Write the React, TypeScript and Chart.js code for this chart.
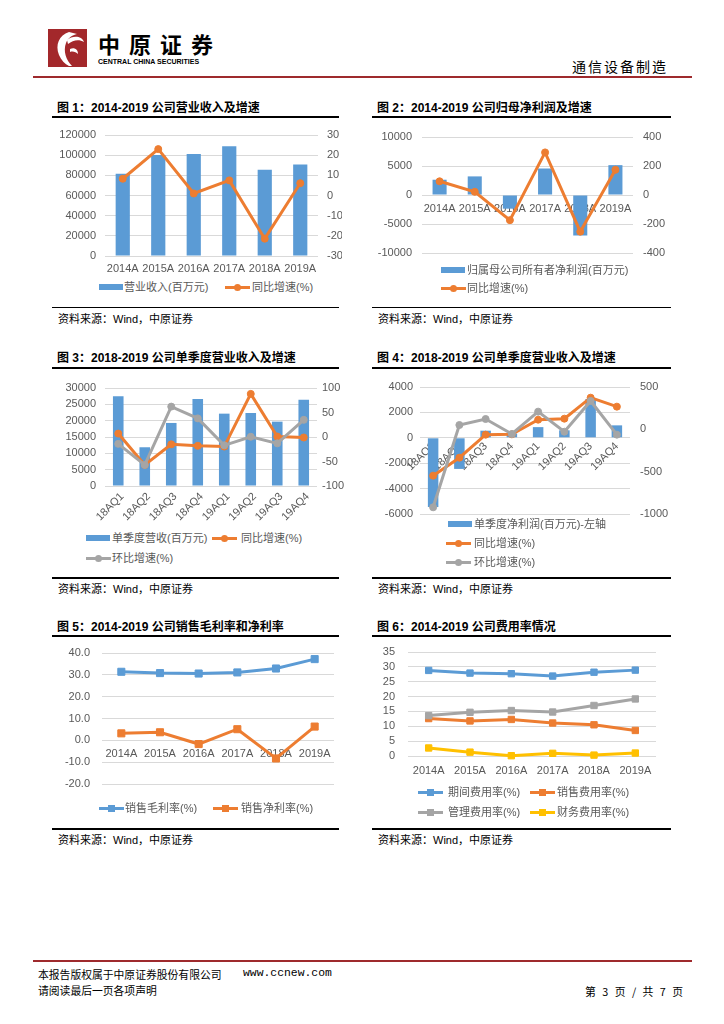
import React, { useEffect, useRef } from "react";
import { Chart, registerables } from "chart.js";
Chart.register(...registerables);

// ---------- data ----------
const years = ["2014A", "2015A", "2016A", "2017A", "2018A", "2019A"];
const quarters = ["18AQ1", "18AQ2", "18AQ3", "18AQ4", "19AQ1", "19AQ2", "19AQ3", "19AQ4"];

const revenue = [81471, 100186, 101233, 108815, 85513, 90737];
const revenueYoY = [8.3, 23.0, 1.0, 7.5, -21.4, 6.1];

const netProfit = [2634, 3208, -2357, 4568, -6984, 5148];
const netProfitYoY = [94.6, 21.8, -173.5, 293.8, -252.9, 173.7];

const qRevenue = [27450, 11860, 19300, 26650, 22150, 22350, 19700, 26400];
const qRevenueYoY = [7, -57, -15, -18, -19.5, 88, 1, -1];
const qRevenueQoQ = [-14, -57, 62, 38, -17, 0.5, -13, 35];

const qProfit = [-5450, -2450, 560, 340, 840, 590, 3050, 980];
const qProfitYoY = [-547, -335, -63, -59, 114, 126, 374, 268];
const qProfitQoQ = [-921, 51, 122, -55, 209, -28, 335, -63];

const grossMargin = [31.4, 30.8, 30.6, 31.1, 32.9, 37.2];
const netMargin = [3.2, 3.7, -1.7, 5.1, -8.3, 6.3];

const periodExp = [28.8, 27.9, 27.7, 26.9, 28.2, 28.9];
const sellingExp = [12.6, 11.8, 12.3, 11.1, 10.5, 8.6];
const adminExp = [13.6, 14.7, 15.3, 14.8, 17.0, 19.2];
const financeExp = [2.7, 1.3, 0.1, 0.9, 0.3, 1.0];

// ---------- styles ----------
const BLUE = "#5B9BD5";
const ORANGE = "#ED7D31";
const GRAY = "#A5A5A5";
const YELLOW = "#FFC000";
const GRID = "#D9D9D9";
const TICK = "#595959";
const RED = "#9E2A2D";
const FONT = "'Liberation Sans', 'Noto Sans CJK SC', sans-serif";
const CJK = "'Noto Sans CJK SC', 'Liberation Sans', sans-serif";
const TICKFONT = { family: "'Liberation Sans', sans-serif", size: 11 };

type Geo = { l: number; t: number; r: number; b: number; lw: number; rw: number; tp: number; bh: number; obj: boolean; right: boolean };

function cssBox(g: Geo) {
  return { left: g.l - g.lw, top: g.t - g.tp, width: g.r - g.l + g.lw + g.rw, height: g.b - g.t + g.tp + g.bh };
}

function baseOptions(g: Geo, scales: any) {
  return {
    responsive: false,
    maintainAspectRatio: false,
    animation: false,
    layout: { padding: { top: g.tp, left: 0, right: g.right ? 0 : g.rw, bottom: g.obj ? g.bh : 0 } },
    plugins: { legend: { display: false }, tooltip: { enabled: false } },
    scales,
  };
}

function yScale(pos: string, min: number, max: number, step: number, width: number, pad: number, grid: boolean, fmt?: (v: number) => string) {
  return {
    type: "linear",
    position: pos,
    min,
    max,
    ticks: {
      stepSize: step,
      padding: pad,
      color: TICK,
      font: TICKFONT,
      autoSkip: false,
      callback: (v: any) => (fmt ? fmt(Number(v)) : String(v)),
    },
    grid: { display: grid, color: GRID, lineWidth: 1, drawTicks: false },
    border: { display: false },
    afterFit: (s: any) => {
      s.width = width;
    },
  };
}

function xScale(g: Geo, pad: number, rot: number, labelOffset: number) {
  return {
    type: "category",
    position: g.obj ? { y: 0 } : "bottom",
    offset: true,
    grid: { display: false, drawTicks: false },
    border: { display: false },
    ticks: { padding: pad, color: TICK, font: TICKFONT, maxRotation: rot, minRotation: rot, autoSkip: false, labelOffset },
    afterFit: (s: any) => {
      s.height = g.obj ? 0 : g.bh;
    },
  };
}

function lineDs(label: string, data: number[], color: string, axis: string, style: string, radius: number, order: number) {
  return {
    type: "line",
    label,
    data,
    yAxisID: axis,
    borderColor: color,
    backgroundColor: color,
    borderWidth: 3,
    pointStyle: style,
    pointRadius: radius,
    pointBorderWidth: 1,
    pointBackgroundColor: color,
    pointBorderColor: color,
    tension: 0,
    order,
    clip: false,
  };
}

function barDs(label: string, data: number[], order: number) {
  return { type: "bar", label, data, yAxisID: "y", backgroundColor: BLUE, barPercentage: 0.4, categoryPercentage: 1, order };
}

// ---------- geometry ----------
const g1: Geo = { l: 105, t: 135, r: 318, b: 256, lw: 50, rw: 24, tp: 20, bh: 22, obj: false, right: true };
const g2: Geo = { l: 422, t: 137, r: 633, b: 253, lw: 50, rw: 36, tp: 20, bh: 20, obj: true, right: true };
const g3: Geo = { l: 105, t: 388, r: 317, b: 486, lw: 52, rw: 30, tp: 20, bh: 45, obj: false, right: true };
const g4: Geo = { l: 420, t: 387, r: 630, b: 514, lw: 46, rw: 40, tp: 20, bh: 20, obj: true, right: true };
const g5: Geo = { l: 102, t: 653, r: 334, b: 784, lw: 50, rw: 8, tp: 20, bh: 20, obj: true, right: false };
const g6: Geo = { l: 408, t: 652, r: 656, b: 756, lw: 40, rw: 8, tp: 20, bh: 25, obj: false, right: false };

const make1 = () => ({
  type: "bar",
  data: {
    labels: years,
    datasets: [lineDs("同比增速(%)", revenueYoY, ORANGE, "y1", "circle", 3.5, 1), barDs("营业收入(百万元)", revenue, 5)],
  },
  options: baseOptions(g1, {
    x: xScale(g1, 6, 0, 0),
    y: yScale("left", 0, 120000, 20000, g1.lw, 9, true),
    y1: yScale("right", -30, 30, 10, g1.rw, 9, false),
  }),
});

const make2 = () => ({
  type: "bar",
  data: {
    labels: years,
    datasets: [lineDs("同比增速(%)", netProfitYoY, ORANGE, "y1", "circle", 3.5, 1), barDs("归属母公司所有者净利润(百万元)", netProfit, 5)],
  },
  options: baseOptions(g2, {
    x: xScale(g2, 7, 0, 0),
    y: yScale("left", -10000, 10000, 5000, g2.lw, 10, true),
    y1: yScale("right", -400, 400, 200, g2.rw, 10, false),
  }),
});

const make3 = () => ({
  type: "bar",
  data: {
    labels: quarters,
    datasets: [
      lineDs("环比增速(%)", qRevenueQoQ, GRAY, "y1", "circle", 3.5, 1),
      lineDs("同比增速(%)", qRevenueYoY, ORANGE, "y1", "circle", 3.5, 2),
      barDs("单季度营收(百万元)", qRevenue, 5),
    ],
  },
  options: baseOptions(g3, {
    x: xScale(g3, 4, 45, 4),
    y: yScale("left", 0, 30000, 5000, g3.lw, 9, true),
    y1: yScale("right", -100, 100, 50, g3.rw, 5, false),
  }),
});

const make4 = () => ({
  type: "bar",
  data: {
    labels: quarters,
    datasets: [
      lineDs("环比增速(%)", qProfitQoQ, GRAY, "y1", "circle", 3.5, 1),
      lineDs("同比增速(%)", qProfitYoY, ORANGE, "y1", "circle", 3.5, 2),
      barDs("单季度净利润(百万元)-左轴", qProfit, 5),
    ],
  },
  options: baseOptions(g4, {
    x: xScale(g4, 2, 45, 0),
    y: yScale("left", -6000, 4000, 2000, g4.lw, 7, true),
    y1: yScale("right", -1000, 500, 500, g4.rw, 10, false),
  }),
});

const make5 = () => ({
  type: "line",
  data: {
    labels: years,
    datasets: [
      lineDs("销售净利率(%)", netMargin, ORANGE, "y", "rect", 5, 1),
      lineDs("销售毛利率(%)", grossMargin, BLUE, "y", "rect", 5, 2),
    ],
  },
  options: baseOptions(g5, {
    x: xScale(g5, 7, 0, 0),
    y: yScale("left", -20, 40, 10, g5.lw, 12, true, (v) => v.toFixed(1)),
  }),
});

const make6 = () => ({
  type: "line",
  data: {
    labels: years,
    datasets: [
      lineDs("财务费用率(%)", financeExp, YELLOW, "y", "rect", 4.5, 1),
      lineDs("管理费用率(%)", adminExp, GRAY, "y", "rect", 4.5, 2),
      lineDs("销售费用率(%)", sellingExp, ORANGE, "y", "rect", 4.5, 3),
      lineDs("期间费用率(%)", periodExp, BLUE, "y", "rect", 4.5, 4),
    ],
  },
  options: baseOptions(g6, {
    x: xScale(g6, 8, 0, 0),
    y: yScale("left", 0, 35, 5, g6.lw, 13, true),
  }),
});

// ---------- components ----------
function ChartCanvas({ g, make }: { g: Geo; make: () => any }) {
  const ref = useRef<HTMLCanvasElement | null>(null);
  useEffect(() => {
    if (!ref.current) return;
    const ch = new Chart(ref.current, make());
    return () => ch.destroy();
  }, []);
  const bx = cssBox(g);
  return (
    <canvas
      ref={ref}
      width={bx.width}
      height={bx.height}
      style={{ position: "absolute", left: bx.left, top: bx.top, width: bx.width, height: bx.height }}
    />
  );
}

function T({ x, y, s = 11, c = "#000", b = false, f = FONT, a = "left", ls = 0, children }: any) {
  const style: React.CSSProperties = {
    position: "absolute",
    top: y - s / 2,
    fontSize: s,
    lineHeight: `${s}px`,
    fontFamily: f,
    fontWeight: b ? 700 : 400,
    color: c,
    whiteSpace: "pre",
    letterSpacing: ls,
  };
  if (a === "left") style.left = x;
  else style.right = 724 - x;
  return <div style={style}>{children}</div>;
}

function HLine({ x1, x2, y, h = 1, c = "#000" }: any) {
  return <div style={{ position: "absolute", left: x1, top: y - h / 2, width: x2 - x1, height: h, background: c }} />;
}

function BarSw({ x, y }: any) {
  return <div style={{ position: "absolute", left: x, top: y - 3, width: 24, height: 6, background: BLUE }} />;
}

function LineSw({ x, y, c, sq = false, w = 25 }: any) {
  return (
    <>
      <div style={{ position: "absolute", left: x, top: y - 1.5, width: w, height: 3, background: c }} />
      <div
        style={{
          position: "absolute",
          left: x + w / 2 - 3.5,
          top: y - 3.5,
          width: 7,
          height: 7,
          borderRadius: sq ? 0 : "50%",
          background: c,
        }}
      />
    </>
  );
}

function Frame({ left, title, yTitle, yTop, yBot, ySrc }: any) {
  const x1 = left ? 52 : 372;
  const x2 = left ? 339 : 671;
  const tx = left ? 57 : 377;
  return (
    <>
      <T x={tx} y={yTitle} s={12} b f={FONT}>
        {title}
      </T>
      <HLine x1={x1} x2={x2} y={yTop} h={2} />
      <HLine x1={x1} x2={x2} y={yBot} h={1.5} />
      <T x={tx + 1} y={ySrc} s={11}>
        资料来源：Wind，中原证券
      </T>
    </>
  );
}

function Logo() {
  return (
    <svg width={39} height={38} style={{ position: "absolute", left: 48, top: 29 }} viewBox="0 0 39 38">
      <rect width={39} height={38} fill="#A3282B" />
      <path d="M21 3 C 11 6, 7 16, 11 26 C 13 31, 17 35, 21 37 L 24 37 C 18 31, 15 22, 18 14 C 20 9, 24 6, 29 5 Z" fill="#fff" />
      <path d="M19 11 C 25 6, 34 7, 36 13 C 31 10, 25 11, 20 15 Z" fill="#fff" />
      <path d="M22 20 C 26 18, 30 20, 30 25 C 28 23, 25 22, 22 23 Z" fill="#fff" />
    </svg>
  );
}

export default function App() {
  const LC = TICK;
  return (
    <div style={{ position: "absolute", left: 0, top: 0, width: 724, height: 1024, background: "#fff", overflow: "hidden", fontFamily: FONT }}>
      {/* header */}
      <Logo />
      <T x={98} y={43} s={22} b f={CJK} ls={9}>
        中原证券
      </T>
      <T x={98} y={61} s={7} b f="'Liberation Sans', sans-serif">
        CENTRAL CHINA SECURITIES
      </T>
      <T x={572} y={66} s={14} f={CJK} ls={2}>
        通信设备制造
      </T>
      <HLine x1={33} x2={692} y={77} h={2} c={RED} />

      {/* chart 1 */}
      <Frame left title="图 1：2014-2019 公司营业收入及增速" yTitle={108} yTop={117} yBot={307.5} ySrc={319} />
      <ChartCanvas g={g1} make={make1} />
      <BarSw x={99} y={287} />
      <T x={124} y={287} c={LC}>营业收入(百万元)</T>
      <LineSw x={225} y={287} c={ORANGE} />
      <T x={252} y={287} c={LC}>同比增速(%)</T>

      {/* chart 2 */}
      <Frame left={false} title="图 2：2014-2019 公司归母净利润及增速" yTitle={108} yTop={117} yBot={307.5} ySrc={319} />
      <ChartCanvas g={g2} make={make2} />
      <BarSw x={441} y={270} />
      <T x={467} y={270} c={LC}>归属母公司所有者净利润(百万元)</T>
      <LineSw x={441} y={288} c={ORANGE} />
      <T x={467} y={288} c={LC}>同比增速(%)</T>

      {/* chart 3 */}
      <Frame left title="图 3：2018-2019 公司单季度营业收入及增速" yTitle={358} yTop={368} yBot={578} ySrc={589} />
      <ChartCanvas g={g3} make={make3} />
      <BarSw x={86} y={538} />
      <T x={112} y={538} c={LC}>单季度营收(百万元)</T>
      <LineSw x={212} y={538} c={ORANGE} />
      <T x={241} y={538} c={LC}>同比增速(%)</T>
      <LineSw x={86} y={558} c={GRAY} />
      <T x={112} y={558} c={LC}>环比增速(%)</T>

      {/* chart 4 */}
      <Frame left={false} title="图 4：2018-2019 公司单季度营业收入及增速" yTitle={358} yTop={368} yBot={578} ySrc={589} />
      <ChartCanvas g={g4} make={make4} />
      <BarSw x={448} y={524} />
      <T x={474} y={524} c={LC}>单季度净利润(百万元)-左轴</T>
      <LineSw x={446} y={543} c={ORANGE} />
      <T x={474} y={543} c={LC}>同比增速(%)</T>
      <LineSw x={446} y={562} c={GRAY} />
      <T x={474} y={562} c={LC}>环比增速(%)</T>

      {/* chart 5 */}
      <Frame left title="图 5：2014-2019 公司销售毛利率和净利率" yTitle={627} yTop={635.5} yBot={829} ySrc={840} />
      <ChartCanvas g={g5} make={make5} />
      <LineSw x={99} y={808} c={BLUE} sq />
      <T x={125} y={808} c={LC}>销售毛利率(%)</T>
      <LineSw x={213} y={808} c={ORANGE} sq />
      <T x={241} y={808} c={LC}>销售净利率(%)</T>

      {/* chart 6 */}
      <Frame left={false} title="图 6：2014-2019 公司费用率情况" yTitle={627} yTop={635.5} yBot={829} ySrc={840} />
      <ChartCanvas g={g6} make={make6} />
      <LineSw x={418} y={792} c={BLUE} sq />
      <T x={448} y={792} c={LC}>期间费用率(%)</T>
      <LineSw x={530} y={792} c={ORANGE} sq />
      <T x={557} y={792} c={LC}>销售费用率(%)</T>
      <LineSw x={418} y={812} c={GRAY} sq />
      <T x={448} y={812} c={LC}>管理费用率(%)</T>
      <LineSw x={530} y={812} c={YELLOW} sq />
      <T x={557} y={812} c={LC}>财务费用率(%)</T>

      {/* footer */}
      <HLine x1={33} x2={692} y={961} h={2} c={RED} />
      <T x={38} y={974} s={10.8} f={CJK}>本报告版权属于中原证券股份有限公司</T>
      <T x={243} y={974} s={11.4} f="'Liberation Mono', monospace">www.ccnew.com</T>
      <T x={38} y={990} s={10.8} f={CJK}>请阅读最后一页各项声明</T>
      <T x={685} y={991} s={10.8} f={CJK} a="right" ls={2}>第 3 页 / 共 7 页</T>
    </div>
  );
}
